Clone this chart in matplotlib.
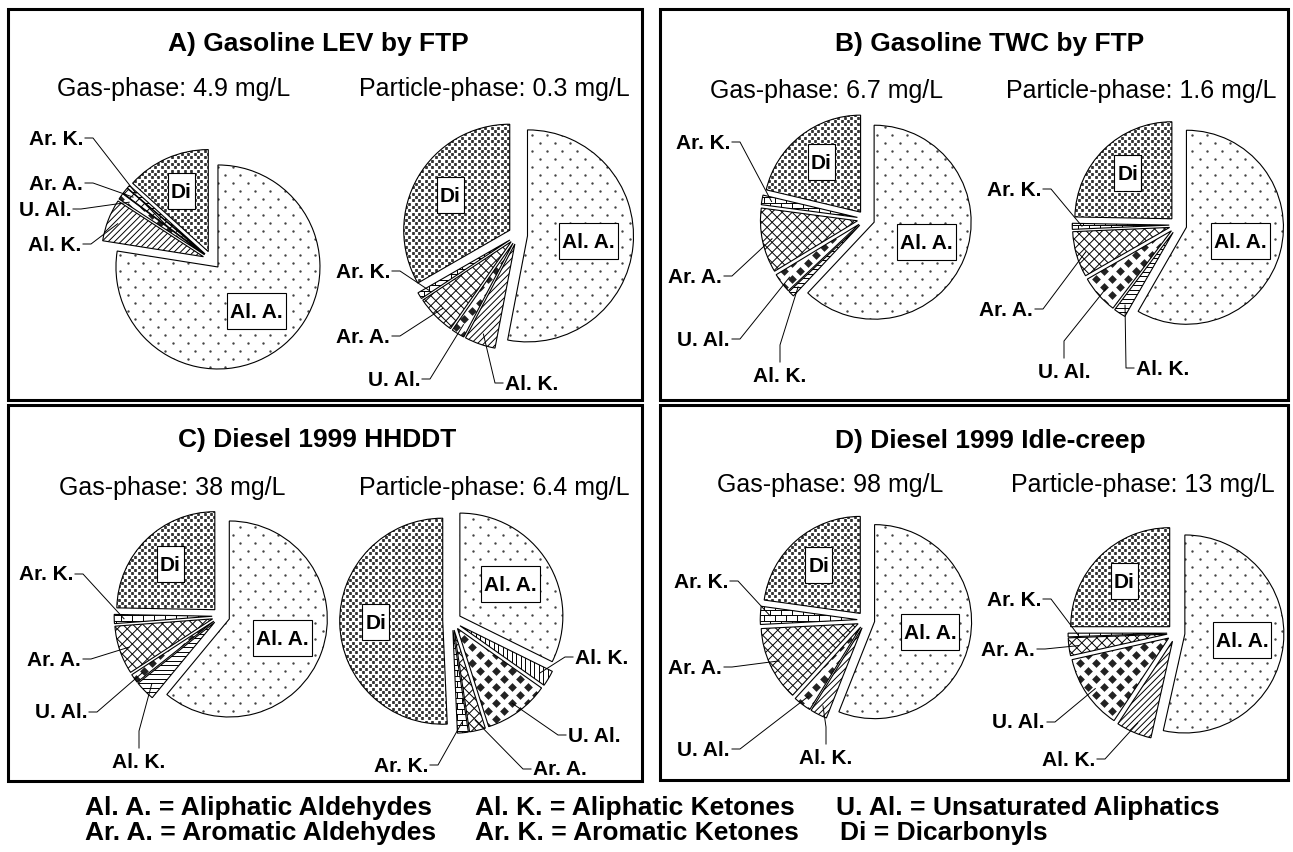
import numpy as np
import matplotlib
matplotlib.use('Agg')
import matplotlib.pyplot as plt
from matplotlib.patches import Rectangle
from matplotlib.collections import LineCollection

plt.rcParams['font.family'] = ['Liberation Sans', 'DejaVu Sans']

# ========== data ==========
classes = ['Al. A.', 'Al. K.', 'U. Al.', 'Ar. A.', 'Ar. K.', 'Di']

panel_titles = ['A) Gasoline LEV by FTP', 'B) Gasoline TWC by FTP',
                'C) Diesel 1999 HHDDT', 'D) Diesel 1999 Idle-creep']
gas_totals = ['4.9', '6.7', '38', '98']
particle_totals = ['0.3', '1.6', '6.4', '13']

# percent of total, order = classes
gas_A = [77.5, 6.7, 1.0, 1.0, 0.5, 13.3]
particle_A = [53.0, 4.7, 2.0, 6.0, 1.0, 33.3]
gas_B = [62.0, 1.0, 3.3, 10.8, 1.6, 21.3]
particle_B = [58.3, 2.0, 6.4, 7.6, 1.0, 24.7]
gas_C = [61.0, 3.3, 1.5, 8.0, 1.5, 24.7]
particle_C = [32.3, 2.5, 10.3, 2.5, 1.7, 50.7]
gas_D = [56.0, 2.8, 3.0, 12.4, 3.0, 22.8]
particle_D = [53.5, 5.8, 12.2, 2.9, 0.6, 25.0]

legend_rows = [
    ['Al. A. = Aliphatic Aldehydes', 'Al. K. = Aliphatic Ketones', 'U. Al. = Unsaturated Aliphatics'],
    ['Ar. A. = Aromatic Aldehydes', 'Ar. K. = Aromatic Ketones', 'Di = Dicarbonyls'],
]

# ========== layout (pixel coords, y down) ==========
W, H = 1293, 853
panel_boxes = [(8, 10, 634, 391), (660, 10, 628, 391),
               (8, 406, 634, 376), (660, 406, 628, 375)]
title_pos = [(318, 44), (990, 44), (317, 440), (990, 441)]
sub_pos = [((174, 89), (494, 89)), ((827, 91), (1141, 91)),
           ((172, 488), (494, 488)), ((830, 485), (1143, 485))]

# (values, center, radius, Al.K line angle, leader labels {slice: (x, y, side)})
pies = [
    (gas_A, (212, 261), 102, -45,
     {1: (81, 245, 'right'), 2: (71, 210, 'right'), 3: (83, 184, 'right'), 4: (83, 139, 'right')}),
    (particle_A, (518, 236), 106, -45,
     {1: (505, 384, 'left'), 2: (420, 380, 'right'), 3: (390, 337, 'right'), 4: (390, 272, 'right')}),
    (gas_B, (866, 220), 97, 0,
     {1: (780, 376, 'top'), 2: (730, 340, 'right'), 3: (722, 277, 'right'), 4: (730, 143, 'right')}),
    (particle_B, (1178, 226), 97, 0,
     {1: (1136, 369, 'left'), 2: (1064, 372, 'top'), 3: (1033, 310, 'right'), 4: (1041, 190, 'right')}),
    (gas_C, (221, 617), 98, 0,
     {1: (139, 762, 'top'), 2: (87, 713, 'right'), 3: (81, 660, 'right'), 4: (73, 575, 'right')}),
    (particle_C, (452, 622), 103, 90,
     {1: (575, 658, 'left'), 2: (568, 736, 'left'), 3: (533, 770, 'left'), 4: (428, 766, 'right')}),
    (gas_D, (866, 621), 97, -45,
     {1: (826, 758, 'top'), 2: (730, 750, 'right'), 3: (722, 668, 'right'), 4: (728, 582, 'right')}),
    (particle_D, (1176, 634), 99, -45,
     {1: (1095, 760, 'right'), 2: (1045, 723, 'right'), 3: (1035, 650, 'right'), 4: (1041, 600, 'right')}),
]

LABEL_FS = 15
EXPLODE = 0.09  # fraction of the radius


# ========== fill patterns ==========
def wedge_box(w, pad=12):
    cx, cy = w.center
    R = w.r + pad
    return cx - R, cx + R, cy - R, cy + R


def draw_points(ax, w, dx, dy, marker, size, color):
    x0, x1, y0, y1 = wedge_box(w)
    xs, ys = [], []
    for y in np.arange(np.floor(y0 / dy) * dy, y1, dy):
        shift = dx / 2 if int(round(y / dy)) % 2 else 0.0
        xr = np.arange(np.floor(x0 / dx) * dx + shift, x1, dx)
        xs.append(xr)
        ys.append(np.full_like(xr, y))
    sc = ax.scatter(np.concatenate(xs), np.concatenate(ys), s=size, marker=marker,
                    c=color, linewidths=0, zorder=2)
    sc.set_snap(False)
    sc.set_clip_path(w)


def draw_lines(ax, w, angles, spacing, lw=0.7):
    cx, cy = w.center
    R = w.r + 12
    segs = []
    for a in angles:
        t = np.deg2rad(a)
        d = np.array([np.cos(t), np.sin(t)])
        n = np.array([-d[1], d[0]])
        for off in np.arange(-R, R, spacing):
            p = np.array([cx, cy]) + off * n
            segs.append([p - R * d, p + R * d])
    lc = LineCollection(segs, colors='black', linewidths=lw, zorder=2)
    ax.add_collection(lc, autolim=False)
    lc.set_clip_path(w)


def draw_bricks(ax, w, bw=11, bh=5.5):
    x0, x1, y0, y1 = wedge_box(w)
    segs = []
    for j, y in enumerate(np.arange(np.floor(y0 / bh) * bh, y1, bh)):
        segs.append([(x0, y), (x1, y)])
        shift = bw / 2 if j % 2 else 0
        for x in np.arange(np.floor(x0 / bw) * bw + shift, x1, bw):
            segs.append([(x, y), (x, y + bh)])
    lc = LineCollection(segs, colors='black', linewidths=0.7, zorder=2)
    ax.add_collection(lc, autolim=False)
    lc.set_clip_path(w)


def fill(ax, w, idx, alk_angle):
    if idx == 0:
        draw_points(ax, w, 15, 8, 'o', 3.0, '#444444')
    elif idx == 1:
        draw_lines(ax, w, [alk_angle], 4.5)
    elif idx == 2:
        draw_points(ax, w, 16, 8, 'D', 20, '#222222')
    elif idx == 3:
        draw_lines(ax, w, [45, -45], 7.1)
    elif idx == 4:
        draw_bricks(ax, w)
    else:
        draw_points(ax, w, 6.6, 3.3, 's', 4.0, '#333333')


# ========== figure ==========
fig = plt.figure(figsize=(W / 100, H / 100), dpi=100)
ax = fig.add_axes([0, 0, 1, 1])
ax.set_autoscale_on(False)

boxed = []
for vals, center, radius, alk_angle, leaders in pies:
    wedges, _ = ax.pie(vals, explode=[EXPLODE * radius] * len(vals), startangle=-90,
                       counterclock=True, radius=radius, center=center, frame=True,
                       wedgeprops=dict(facecolor='none', edgecolor='black', linewidth=0.8, zorder=3))
    for i, w in enumerate(wedges):
        fill(ax, w, i, alk_angle)
    # boxed labels for the two large slices
    for i, frac in ((0, 0.58), (5, 0.65)):
        w = wedges[i]
        mid = np.deg2rad((w.theta1 + w.theta2) / 2)
        bx = w.center[0] + frac * w.r * np.cos(mid)
        by = w.center[1] + frac * w.r * np.sin(mid)
        t = ax.text(bx, by, classes[i], ha='center', va='center', fontsize=LABEL_FS,
                    fontweight='bold', zorder=6)
        boxed.append(t)
    # leader labels for the small slices
    for i, (lx, ly, side) in leaders.items():
        w = wedges[i]
        mid = np.deg2rad((w.theta1 + w.theta2) / 2)
        tx = w.center[0] + 0.9 * w.r * np.cos(mid)
        ty = w.center[1] + 0.9 * w.r * np.sin(mid)
        if side == 'right':
            ax.text(lx, ly, classes[i], ha='right', va='center', fontsize=LABEL_FS, fontweight='bold')
            px, py = [lx + 2, lx + 10, tx], [ly, ly, ty]
        elif side == 'left':
            ax.text(lx, ly, classes[i], ha='left', va='center', fontsize=LABEL_FS, fontweight='bold')
            px, py = [lx - 2, lx - 10, tx], [ly, ly, ty]
        else:
            ax.text(lx, ly, classes[i], ha='center', va='center', fontsize=LABEL_FS, fontweight='bold')
            px, py = [lx, lx, tx], [ly - 13, ly - 30, ty]
        ax.plot(px, py, color='black', lw=0.7, zorder=4)

# panel frames, titles, phase totals
for k in range(4):
    x, y, w, h = panel_boxes[k]
    ax.add_patch(Rectangle((x, y), w, h, fill=False, edgecolor='black', linewidth=2.2, zorder=7))
    ax.text(*title_pos[k], panel_titles[k], ha='center', va='center', fontsize=19, fontweight='bold')
    ax.text(*sub_pos[k][0], f'Gas-phase: {gas_totals[k]} mg/L', ha='center', va='center', fontsize=18)
    ax.text(*sub_pos[k][1], f'Particle-phase: {particle_totals[k]} mg/L', ha='center', va='center',
            fontsize=18)

# legend
col_x = [[85, 475, 836], [85, 475, 840]]
row_y = [808, 833]
for r, row in enumerate(legend_rows):
    for c, s in enumerate(row):
        ax.text(col_x[r][c], row_y[r], s, ha='left', va='center', fontsize=19, fontweight='bold')

ax.set_xlim(0, W)
ax.set_ylim(H, 0)
ax.axis('off')

# white boxes around the large-slice labels (taller than the text, like the original)
fig.canvas.draw()
inv = ax.transData.inverted()
for t in boxed:
    bb = t.get_window_extent()
    (xa, ya), (xb, yb) = inv.transform([[bb.x0, bb.y0], [bb.x1, bb.y1]])
    left, right = min(xa, xb) - 3, max(xa, xb) + 3
    top, bottom = min(ya, yb) - 9, max(ya, yb) + 8
    ax.add_patch(Rectangle((left, top), right - left, bottom - top, facecolor='white',
                           edgecolor='black', linewidth=0.8, zorder=5))

fig.savefig('out.png', dpi=100)
